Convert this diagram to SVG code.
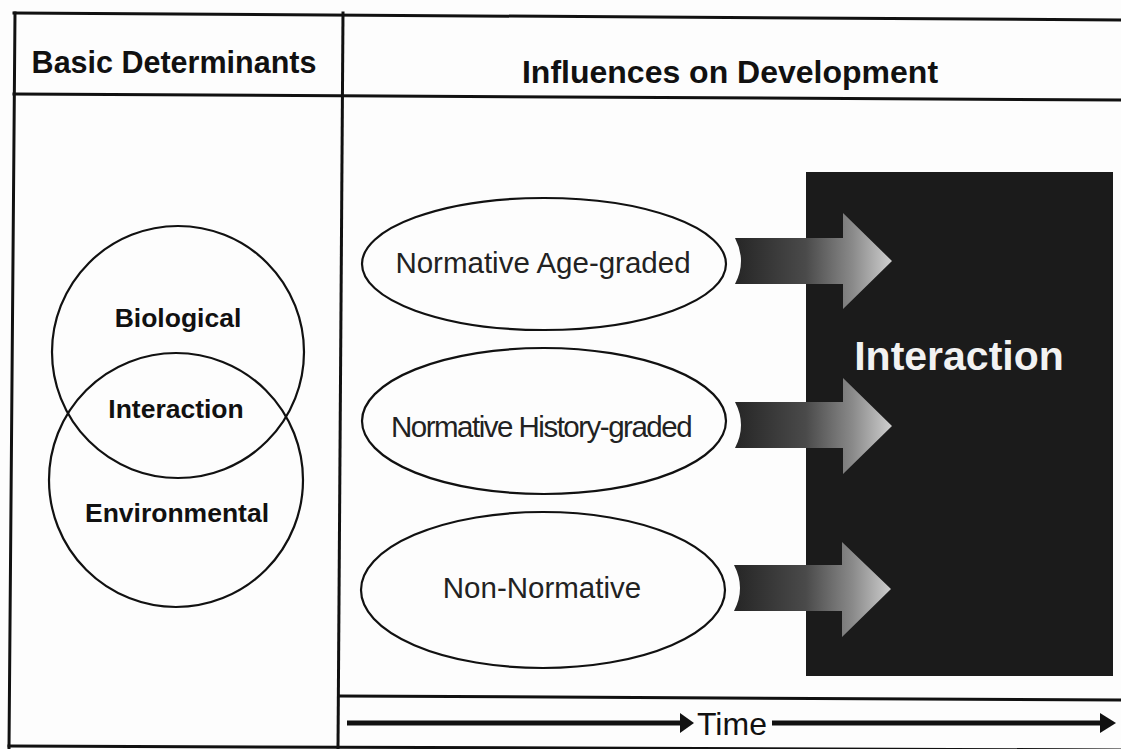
<svg xmlns="http://www.w3.org/2000/svg" width="1121" height="749" viewBox="0 0 1121 749">
  <defs>
    <style>
      .frame { stroke: #111; stroke-width: 3; fill: none; stroke-linecap: square; }
      .shape { stroke: #111; stroke-width: 2.2; fill: none; }
      .hdr { font-family: "Liberation Sans", Arial, sans-serif; font-weight: bold; font-size: 30.5px; fill: #111; text-anchor: middle; }
      .circ { font-family: "Liberation Sans", Arial, sans-serif; font-weight: bold; font-size: 26.5px; fill: #111; text-anchor: middle; }
      .ell { font-family: "Liberation Sans", Arial, sans-serif; font-size: 29.5px; fill: #222; text-anchor: middle; }
      .big { font-family: "Liberation Sans", Arial, sans-serif; font-weight: bold; font-size: 41px; fill: #f2f2f2; text-anchor: middle; }
      .time { font-family: "Liberation Sans", Arial, sans-serif; font-size: 32px; fill: #111; }
      .tline { stroke: #111; stroke-width: 5; }
    </style>
    <linearGradient id="arrowGrad" x1="735" y1="0" x2="892" y2="0" gradientUnits="userSpaceOnUse">
      <stop offset="0" stop-color="#262626"/>
      <stop offset="0.45" stop-color="#4a4a4a"/>
      <stop offset="0.75" stop-color="#8a8a8a"/>
      <stop offset="1" stop-color="#cfcfcf"/>
    </linearGradient>
  </defs>
  <rect width="1121" height="749" fill="#fdfdfd"/>

  <g id="frame">
    <line class="frame" x1="14" y1="13" x2="1121" y2="20"/>
    <line class="frame" x1="14" y1="94" x2="1121" y2="100"/>
    <line class="frame" x1="15" y1="13" x2="9" y2="748"/>
    <line class="frame" x1="343" y1="13" x2="338" y2="748"/>
    <line class="frame" x1="339" y1="696" x2="1121" y2="700"/>
    <line class="frame" x1="9" y1="746" x2="1121" y2="750"/>
  </g>

  <g id="header-basic">
    <text class="hdr" x="174" y="73">Basic Determinants</text>
  </g>
  <g id="header-influences">
    <text class="hdr" x="730" y="83" style="font-size:32px">Influences on Development</text>
  </g>

  <g id="circle-biological">
    <circle class="shape" cx="178" cy="352" r="126"/>
    <text class="circ" x="178" y="327">Biological</text>
  </g>
  <g id="circle-environmental">
    <circle class="shape" cx="176" cy="480" r="127"/>
    <text class="circ" x="177" y="522">Environmental</text>
  </g>
  <g id="label-interaction-overlap">
    <text class="circ" x="176" y="418">Interaction</text>
  </g>

  <g id="interaction-box">
    <rect x="806" y="172" width="307" height="504" fill="#1b1b1b"/>
    <text class="big" x="959" y="370">Interaction</text>
  </g>

  <g id="connectors">
    <path d="M735 238 L843 238 L843 213 L892 261 L843 309 L843 284 L735 284 Q747 261 735 238 Z" fill="url(#arrowGrad)"/>
    <path d="M735 402 L843 402 L843 378 L892 426 L843 474 L843 448 L735 448 Q747 425 735 402 Z" fill="url(#arrowGrad)"/>
    <path d="M734 565 L842 565 L842 542 L891 589 L842 637 L842 611 L734 611 Q746 588 734 565 Z" fill="url(#arrowGrad)"/>
    <g id="time-arrow">
      <line class="tline" x1="347" y1="723" x2="682" y2="723"/>
      <polygon points="680,713 694,723 680,733" fill="#111"/>
      <line class="tline" x1="772" y1="723" x2="1102" y2="723"/>
      <polygon points="1100,713 1116,723 1100,733" fill="#111"/>
    </g>
  </g>

  <g id="node-age-graded">
    <ellipse class="shape" cx="544" cy="264" rx="182" ry="66"/>
    <text class="ell" x="543" y="273">Normative Age-graded</text>
  </g>
  <g id="node-history-graded">
    <ellipse class="shape" cx="544" cy="421" rx="182" ry="73"/>
    <text class="ell" x="541" y="437" letter-spacing="-1.5">Normative History-graded</text>
  </g>
  <g id="node-non-normative">
    <ellipse class="shape" cx="543" cy="590" rx="182" ry="78"/>
    <text class="ell" x="542" y="598">Non-Normative</text>
  </g>

  <g id="time-label">
    <text class="time" x="697" y="735">Time</text>
  </g>
</svg>
